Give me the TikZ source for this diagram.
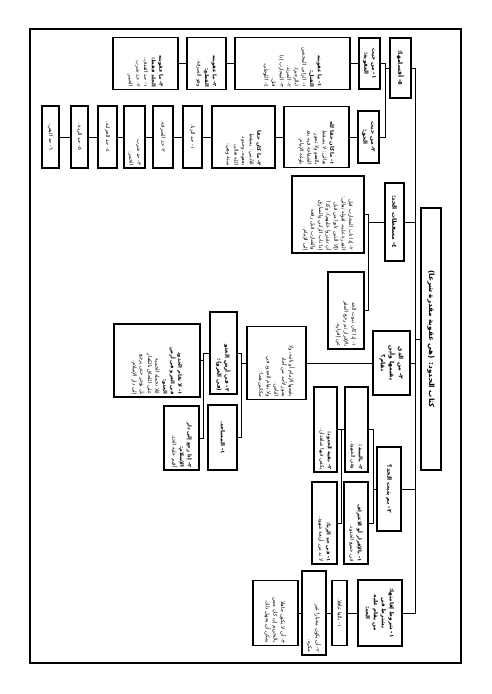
\documentclass[tikz,border=0pt]{standalone}
\usepackage{fontspec}
\newfontfamily\ar[Script=Arabic]{DejaVu Sans}
\TeXXeTstate=1
\newcommand\arl[1]{\beginR#1\endR}
\begin{document}
\begin{tikzpicture}[x=1pt,y=-1pt]
\tikzset{
  box/.style={draw, line width=1.1pt, rotate=-90, inner sep=1.5pt, anchor=center,
    font=\ar\fontsize{5.2}{7.6}\selectfont, align=right},
  hd/.style={box, font=\ar\bfseries\fontsize{5.6}{8}\selectfont, align=center},
  bx/.code 2 args={\pgfmathsetmacro\bxtw{#2-5}\tikzset{minimum height=#1pt,minimum width=#2pt,text width=\bxtw pt}},
  conn/.style={line width=1pt},
}
\useasboundingbox (0,0) rectangle (491,694);
\draw[line width=1.4pt] (30,29) rectangle (461,663);

% root and level 1
\node[hd, bx={20}{262}, font=\ar\bfseries\fontsize{7.2}{9}\selectfont] (root) at (431,339) {\arl{كتاب الحدود: (هي عقوبة مقدرة شرعا)}};
\node[hd, bx={21}{60}, font=\ar\bfseries\fontsize{6}{8}\selectfont] (b5) at (400.5,68) {\arl{٥- أقسامها:}};
\node[hd, bx={19}{78}, font=\ar\bfseries\fontsize{6}{8}\selectfont] (b4) at (394.5,222) {\arl{٤- مسقطات الحد:}};
\node[hd, bx={37}{64}, font=\ar\bfseries\fontsize{6}{9}\selectfont] (b3) at (391.5,363) {\arl{٣- من الذي}\\\arl{يقيمها وأين}\\\arl{تقام؟}};
\node[hd, bx={24}{84}, font=\ar\bfseries\fontsize{6}{8}\selectfont] (b2) at (389,489) {\arl{٢- بم يثبت الحد؟}};
\node[hd, bx={44}{66}] (b1) at (380,613) {\arl{١- شروط إقامتها:}\\\arl{يشترط في من يقام عليه}\\\arl{الحد:}};

% branch 1
\node[box, bx={15}{65}, align=center] (b1a) at (339.5,613) {\arl{١- بالغا عاقلا.}};
\node[box, bx={24}{84}] (b1b) at (314,613) {\arl{٢- أن يكون مختارا غير}\\\arl{مكره.}};
\node[box, bx={45}{65}] (b1c) at (275.5,613) {\arl{٣- أن لا يكون جاهلا}\\\arl{بالتحريم إن كان ممن}\\\arl{يمكن أن يجهل ذلك.}};

% branch 2
\node[box, bx={24}{82}] (b2a) at (356,523) {{\bfseries\arl{١- بالإقرار أو الاعتراف}}\\\arl{في جميع الحدود.}};
\node[box, bx={23}{85}] (b2b) at (356.5,429.5) {{\bfseries\arl{٢- بالبينة:}}\\\arl{وهي الشهود.}};
\node[box, bx={23}{85}] (b2c) at (325.5,429.5) {{\bfseries\arl{٢- بقية الحدود:}}\\\arl{يكفي فيها شاهدان.}};
\node[box, bx={25}{82}] (b2d) at (324.5,523) {{\bfseries\arl{١- في حد الزنا:}}\\\arl{لا بد من أربعة شهود.}};

% branch 3
\node[box, bx={59}{73}] (b3a) at (276.5,363) {\arl{يقيمها الإمام أو نائبه، ولا}\\\arl{يجوز لأحد من آحاد}\\\arl{الناس.}\\\arl{ولا تقام الحدود في}\\\arl{مكانين هما:}};
\node[hd, bx={27}{82}, align=right] (b3b) at (223.5,353) {\arl{٢- في أرض العدو}\\\arl{(في الغزو):}};
\node[hd, bx={29}{65}] (b3c) at (222.5,437.5) {\arl{١- المساجد.}};
\node[box, bx={86}{73}] (b3d) at (157,360.5) {{\bfseries\arl{١- لا تقام الحدود}\\\arl{في الغزو في أرض}\\\arl{العدو:}}\\\arl{لئلا تحمله الحمية}\\\arl{على اللحاق بالكفار}\\\arl{بل يؤخر حتى يرجع}\\\arl{إلى دار الإسلام.}};
\node[box, bx={35}{64}] (b3e) at (181.5,438) {{\bfseries\arl{٢- إذا رجع إلى دار}\\\arl{الإسلام:}}\\\arl{أقيم عليه الحد.}};

% branch 4
\node[box, bx={72}{77}] (b4a) at (328,214.5) {\arl{٢- إذا تاب المحارب قبل}\\\arl{القدرة عليه، لقوله تعالى:}\\\arl{(إلا الذين تابوا من قبل}\\\arl{أن تقدروا عليهم)، وكذا}\\\arl{إذا تاب الزاني والسارق}\\\arl{والشارب قبل رفعه}\\\arl{إلى الإمام.}};
\node[box, bx={36}{77}] (b4b) at (346,310.5) {\arl{١- إذا كان ثبوت الحد}\\\arl{بالإقرار ثم رجع المقر}\\\arl{عن إقراره.}};

% branch 5
\node[hd, bx={21}{51}] (b5a) at (369.5,63.5) {\arl{١- من حيث}\\\arl{العقوبة:}};
\node[hd, bx={21}{52}] (b5b) at (368.5,137) {\arl{٢- من حيث}\\\arl{الحق:}};
\node[box, bx={115}{52}] (k1) at (292.5,63.5) {{\bfseries\arl{١- ما عقوبته}\\\arl{القتل:}}\\\arl{١- الزاني المحصن}\\\arl{(بالرجم).}\\\arl{٢- المرتد.}\\\arl{٣- المحارب إذا}\\\arl{قتل.}\\\arl{٤- اللوطي.}};
\node[box, bx={39}{52}] (k2) at (206.5,63.5) {{\bfseries\arl{٢- ما عقوبته}\\\arl{القطع:}}\\\arl{وهو السرقة.}};
\node[box, bx={65}{52}] (k3) at (145.5,63.5) {{\bfseries\arl{٣- ما عقوبته}\\\arl{الجلد فقط:}}\\\arl{١- حد القذف.}\\\arl{٢- حد شرب}\\\arl{الخمر.}};
\node[box, bx={65}{61}] (h1) at (316.5,137) {{\bfseries\arl{١- ما كان حقا لله}}\\\arl{تعالى: لا يسقط}\\\arl{بالعفو ولا تجوز}\\\arl{الشفاعة فيه بعد}\\\arl{بلوغه الإمام.}};
\node[box, bx={63}{62}] (h2) at (243.5,137) {{\bfseries\arl{٢- ما كان حقا}}\\\arl{للآدمي: يسقط}\\\arl{بعفوه، وحدود}\\\arl{الله تعالى}\\\arl{ستة وهي:}};
\node[box, bx={19}{62}, align=center] (h3) at (192.5,137) {\arl{١- حد الزنا.}};
\node[box, bx={20}{62}, align=center] (h4) at (163,137) {\arl{٢- حد السرقة.}};
\node[box, bx={21}{62}] (h5) at (134.5,137) {\arl{٣- حد شرب}\\\arl{الخمر.}};
\node[box, bx={19}{62}, align=center] (h6) at (107.5,137) {\arl{٤- حد الحرابة.}};
\node[box, bx={17}{62}, align=center] (h7) at (79.5,137) {\arl{٥- حد الردة.}};
\node[box, bx={17}{62}, align=center] (h8) at (50.5,137) {\arl{٦- حد البغي.}};

% junction coordinates
\coordinate (jt) at (415,0);
\coordinate (j5) at (385,0);
\coordinate (j4) at (368,0);
\coordinate (j2) at (373,0);
\coordinate (j2b) at (341,0);
\coordinate (j3a) at (241,0);
\coordinate (j3b) at (203,0);

% connectors
\foreach \c in {b5,b4,b3,b2,b1}
  \draw[conn] (root.south) -- (root.south -| jt) |- (\c.north);
\foreach \c in {b5a,b5b}
  \draw[conn] (b5.south) -- (b5.south -| j5) |- (\c.north);
\draw[conn] (b5a.south) -- (k1.north);
\draw[conn] (k1.south) -- (k2.north);
\draw[conn] (k2.south) -- (k3.north);
\draw[conn] (b5b.south) -- (h1.north);
\draw[conn] (h1.south) -- (h2.north);
\draw[conn] (h2.south) -- (h3.north);
\draw[conn] (h3.south) -- (h4.north);
\draw[conn] (h4.south) -- (h5.north);
\draw[conn] (h5.south) -- (h6.north);
\draw[conn] (h6.south) -- (h7.north);
\draw[conn] (h7.south) -- (h8.north);
\foreach \c in {b4a,b4b}
  \draw[conn] (b4.south) -- (b4.south -| j4) |- (\c.north);
\draw[conn] (b3.south) -- (b3a.north);
\foreach \c in {b3b,b3c}
  \draw[conn] (b3a.south) -- (b3a.south -| j3a) |- (\c.north);
\foreach \c in {b3d,b3e}
  \draw[conn] (b3b.south) -- (b3b.south -| j3b) |- (\c.north);
\foreach \c in {b2a,b2b}
  \draw[conn] (b2.south) -- (b2.south -| j2) |- (\c.north);
\foreach \c in {b2c,b2d}
  \draw[conn] (b2b.south) -- (b2b.south -| j2b) |- (\c.north);
\draw[conn] (b1.south) -- (b1a.north);
\draw[conn] (b1a.south) -- (b1b.north);
\draw[conn] (b1b.south) -- (b1c.north);
\end{tikzpicture}
\end{document}
